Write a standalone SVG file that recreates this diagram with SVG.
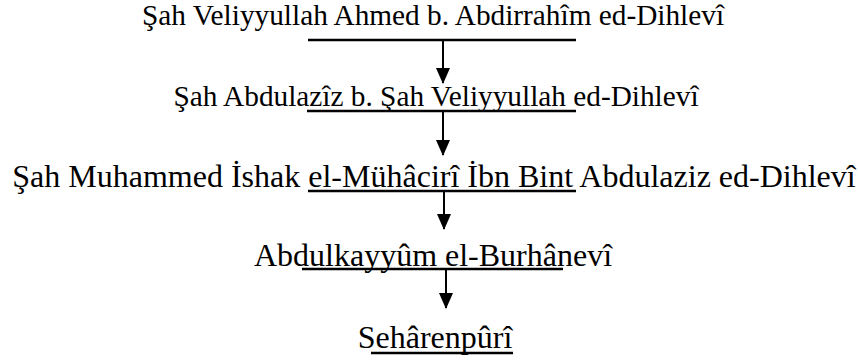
<svg xmlns="http://www.w3.org/2000/svg" width="858" height="363" viewBox="0 0 858 363">
  <style>
    .t { font-family: "Liberation Serif", "Times New Roman", serif; fill: #000; text-anchor: middle; }
    .s22 { font-size: 29.3px; }
    .s24 { font-size: 32px; }
    .ul { stroke: #000; stroke-width: 2.5; fill: none; }
    .arr { stroke: #000; stroke-width: 2; fill: none; marker-end: url(#head); }
  </style>
  <defs>
    <marker id="head" markerUnits="userSpaceOnUse" markerWidth="16" markerHeight="14" viewBox="0 0 16 14" refX="15" refY="7" orient="auto">
      <path d="M0,0 L16,7 L0,14 Z" fill="#000"/>
    </marker>
  </defs>
  <rect width="858" height="363" fill="#fff"/>
  <g id="node1">
    <text class="t s22" x="433" y="25">Şah Veliyyullah Ahmed b. Abdirrahîm ed-Dihlevî</text>
    <line class="ul" x1="308" y1="40" x2="576" y2="40"/>
  </g>
  <g id="node2">
    <text class="t s22" x="436" y="106">Şah Abdulazîz b. Şah Veliyyullah ed-Dihlevî</text>
    <line class="ul" x1="307" y1="111" x2="576" y2="111"/>
  </g>
  <g id="node3">
    <text class="t s24" x="434" y="187">Şah Muhammed İshak el-Mühâcirî İbn Bint Abdulaziz ed-Dihlevî</text>
    <line class="ul" x1="308" y1="191" x2="576" y2="191"/>
  </g>
  <g id="node4">
    <text class="t s24" x="433" y="266">Abdulkayyûm el-Burhânevî</text>
    <line class="ul" x1="302" y1="269" x2="563" y2="269"/>
  </g>
  <g id="node5">
    <text class="t s24" x="435" y="348">Sehârenpûrî</text>
    <line class="ul" x1="371" y1="353" x2="513" y2="353"/>
  </g>
  <g id="connectors">
    <line class="arr" x1="443" y1="41" x2="443" y2="83"/>
    <line class="arr" x1="443" y1="112" x2="443" y2="155"/>
    <line class="arr" x1="444" y1="192" x2="444" y2="229"/>
    <line class="arr" x1="446" y1="270" x2="446" y2="308"/>
  </g>
</svg>
